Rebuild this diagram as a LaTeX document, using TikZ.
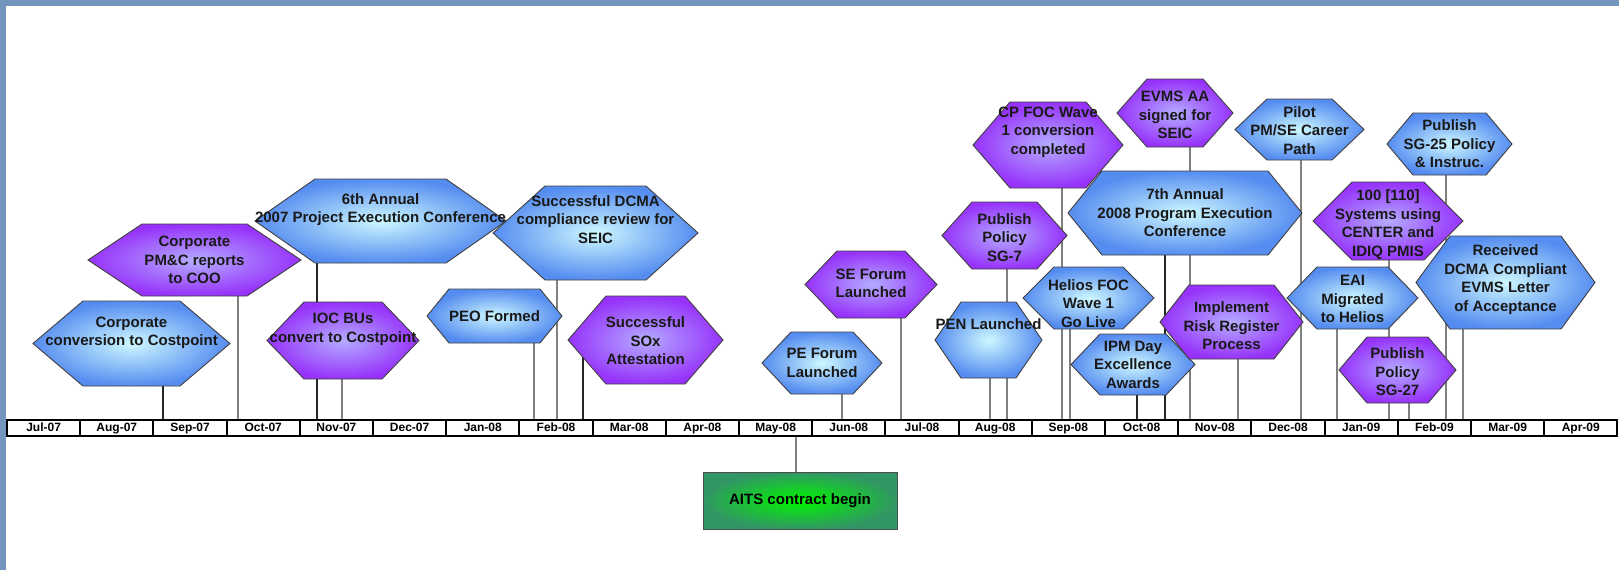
\documentclass[tikz,border=0pt]{standalone}
\usepackage{fontspec}
\setmainfont{Liberation Sans}
\pgfdeclarelayer{back}
\pgfsetlayers{back,main}
\definecolor{framebl}{RGB}{115,150,190}
\definecolor{bluein}{RGB}{205,248,255}
\definecolor{blueout}{RGB}{85,140,240}
\definecolor{purpin}{RGB}{180,172,255}
\definecolor{purpout}{RGB}{150,50,250}
\definecolor{greenin}{RGB}{0,245,0}
\definecolor{greenout}{RGB}{50,150,100}
% #1 name, #2 style, #3 cx, #4 cy, #5 half width, #6 half height, #7 inset, #8 text, #9 text shift
\newcommand{\hexev}[9]{%
  \shadedraw[#2] (#3-#5,#4) -- (#3-#5+#7,#4-#6) -- (#3+#5-#7,#4-#6) -- (#3+#5,#4)
     -- (#3+#5-#7,#4+#6) -- (#3-#5+#7,#4+#6) -- cycle;
  \node[hexbox,minimum width=2*#5,minimum height=2*#6] (#1) at (#3,#4) {};
  \node[hextext] (#1t) at (#3,{#4+(#9)}) {#8};
}
\begin{document}
\begin{tikzpicture}[x=1pt,y=-1pt,
  bluehex/.style={inner color=bluein,outer color=blueout,draw=black!75,line width=0.9},
  purphex/.style={inner color=purpin,outer color=purpout,draw=black!75,line width=0.9},
  hexbox/.style={inner sep=0,outer sep=0},
  hextext/.style={font=\bfseries\fontsize{15}{18.5}\selectfont,align=center,inner sep=0,text=black!90},
  monthcell/.style={draw,line width=2,fill=white,minimum width=73.2,minimum height=16,inner sep=0,
    text height=9,text depth=3,font=\bfseries\fontsize{12}{14}\selectfont},
  aitsbox/.style={inner color=greenin,outer color=greenout,draw=black!70,line width=1,
    minimum width=194,minimum height=57,font=\bfseries\fontsize{15}{18}\selectfont},
  conn/.style={black!50,line width=1.4},
  connbold/.style={black!85,line width=2}]
\useasboundingbox (0,0) rectangle (1619,570);
\fill[framebl] (0,0) rectangle (1619,6);
\fill[framebl] (0,0) rectangle (6,570);

% ticks on the time line
\coordinate (tcc) at (163,421);
\coordinate (tpmc) at (238,421);
\coordinate (tsixth) at (317,421);
\coordinate (tioc) at (342,421);
\coordinate (tpeo) at (534,421);
\coordinate (tdcma) at (557,421);
\coordinate (tsox) at (583,421);
\coordinate (tpef) at (842,421);
\coordinate (tsef) at (901,421);
\coordinate (tait) at (796,435);
\coordinate (tpen) at (990,421);
\coordinate (tsg7) at (1007,421);
\coordinate (tcpfoc) at (1062,421);
\coordinate (thelios) at (1070,421);
\coordinate (tipm) at (1137,421);
\coordinate (tseventh) at (1165,421);
\coordinate (tevms) at (1190,421);
\coordinate (trisk) at (1238,421);
\coordinate (tpilot) at (1301,421);
\coordinate (teai) at (1337,421);
\coordinate (tcent) at (1389,421);
\coordinate (tsg27) at (1409,421);
\coordinate (tsg25) at (1446,421);
\coordinate (trcvd) at (1463,421);

% months
\foreach \m [count=\i from 0] in {Jul-07,Aug-07,Sep-07,Oct-07,Nov-07,Dec-07,Jan-08,Feb-08,Mar-08,
    Apr-08,May-08,Jun-08,Jul-08,Aug-08,Sep-08,Oct-08,Nov-08,Dec-08,Jan-09,Feb-09,Mar-09,Apr-09}
  \node[monthcell] (m\i) at (43.6+73.2*\i,428) {\m};

% events
\hexev{cc}{bluehex}{131.5}{343.5}{98.5}{42.5}{50}{Corporate\\conversion to Costpoint}{-10.5}
\hexev{pmc}{purphex}{194.5}{260}{106.5}{36}{54}{Corporate\\PM\&C reports\\to COO}{0}
\hexev{sixth}{bluehex}{380.5}{221}{125.5}{42}{60}{6th Annual\\2007 Project Execution Conference}{-11.5}
\hexev{ioc}{purphex}{343}{340.5}{76}{38.5}{37}{IOC BUs\\convert to Costpoint}{-11}
\hexev{peo}{bluehex}{494.5}{316}{67.5}{27}{22}{PEO Formed}{0}
\hexev{dcma}{bluehex}{595.5}{233}{102.5}{47}{52}{Successful DCMA\\compliance review for\\SEIC}{-13.5}
\hexev{sox}{purphex}{645.5}{340}{77.5}{44}{38}{Successful\\SOx\\Attestation}{1}
\hexev{pef}{bluehex}{822}{363}{60}{31}{29}{PE Forum\\Launched}{0}
\hexev{sef}{purphex}{871}{284.5}{66}{33.5}{32}{SE Forum\\Launched}{-1}
\hexev{pen}{bluehex}{988.5}{340}{53.5}{38}{26}{PEN Launched}{-16}
\hexev{sg7}{purphex}{1004.5}{235.5}{62.5}{33.5}{30}{Publish\\Policy\\SG-7}{2}
\hexev{cpfoc}{purphex}{1048}{145}{75}{43}{37}{CP FOC Wave\\1 conversion\\completed}{-13}
\hexev{helios}{bluehex}{1088.5}{298}{65.5}{31}{31}{Helios FOC\\Wave 1\\Go Live}{5.5}
\hexev{seventh}{bluehex}{1185}{213}{117}{42}{34}{7th Annual\\2008 Program Execution\\Conference}{0}
\hexev{evms}{purphex}{1175}{113}{58}{34}{30}{EVMS AA\\signed for\\SEIC}{2}
\hexev{ipm}{bluehex}{1133}{364.5}{62}{30.5}{29}{IPM Day\\Excellence\\Awards}{0}
\hexev{risk}{purphex}{1231.5}{322}{71.5}{37}{29}{Implement\\Risk Register\\Process}{4}
\hexev{pilot}{bluehex}{1299.5}{129.5}{64.5}{30.5}{32}{Pilot\\PM/SE Career\\Path}{1}
\hexev{cent}{purphex}{1388}{221}{75}{39}{39}{100 [110]\\Systems using\\CENTER and\\IDIQ PMIS}{3.5}
\hexev{eai}{bluehex}{1352.5}{298}{65.5}{31}{30}{EAI\\Migrated\\to Helios}{1}
\hexev{sg27}{purphex}{1397.5}{370}{58.5}{33}{28}{Publish\\Policy\\SG-27}{2}
\hexev{sg25}{bluehex}{1449.5}{144}{62.5}{31}{26}{Publish\\SG-25 Policy\\\& Instruc.}{0}
\hexev{rcvd}{bluehex}{1505.5}{282.5}{89.5}{46.5}{34}{Received\\DCMA Compliant\\EVMS Letter\\of Acceptance}{-3}

\node[aitsbox] (aits) at (800,500.5) {AITS contract begin};

% connectors behind the shapes
\begin{pgfonlayer}{back}
\draw[connbold] (tcc) -- (tcc |- cc.center);
\draw[conn] (tpmc) -- (tpmc |- pmc.center);
\draw[connbold] (tsixth) -- (tsixth |- sixth.center);
\draw[conn] (tioc) -- (tioc |- ioc.center);
\draw[conn] (tpeo) -- (tpeo |- peo.center);
\draw[conn] (tdcma) -- (tdcma |- dcma.center);
\draw[connbold] (tsox) -- (tsox |- sox.center);
\draw[conn] (tpef) -- (tpef |- pef.center);
\draw[conn] (tsef) -- (tsef |- sef.center);
\draw[conn] (tait) -- (tait |- aits.north);
\draw[conn] (tpen) -- (tpen |- pen.center);
\draw[conn] (tsg7) -- (tsg7 |- sg7.center);
\draw[conn] (tcpfoc) -- (tcpfoc |- cpfoc.center);
\draw[conn] (thelios) -- (thelios |- helios.center);
\draw[connbold] (tipm) -- (tipm |- ipm.center);
\draw[connbold] (tseventh) -- (tseventh |- seventh.center);
\draw[conn] (tevms) -- (tevms |- evms.center);
\draw[conn] (trisk) -- (trisk |- risk.center);
\draw[conn] (tpilot) -- (tpilot |- pilot.center);
\draw[conn] (teai) -- (teai |- eai.center);
\draw[conn] (tcent) -- (tcent |- cent.center);
\draw[conn] (tsg27) -- (tsg27 |- sg27.center);
\draw[conn] (tsg25) -- (tsg25 |- sg25.center);
\draw[conn] (trcvd) -- (trcvd |- rcvd.center);
\end{pgfonlayer}
\end{tikzpicture}
\end{document}
